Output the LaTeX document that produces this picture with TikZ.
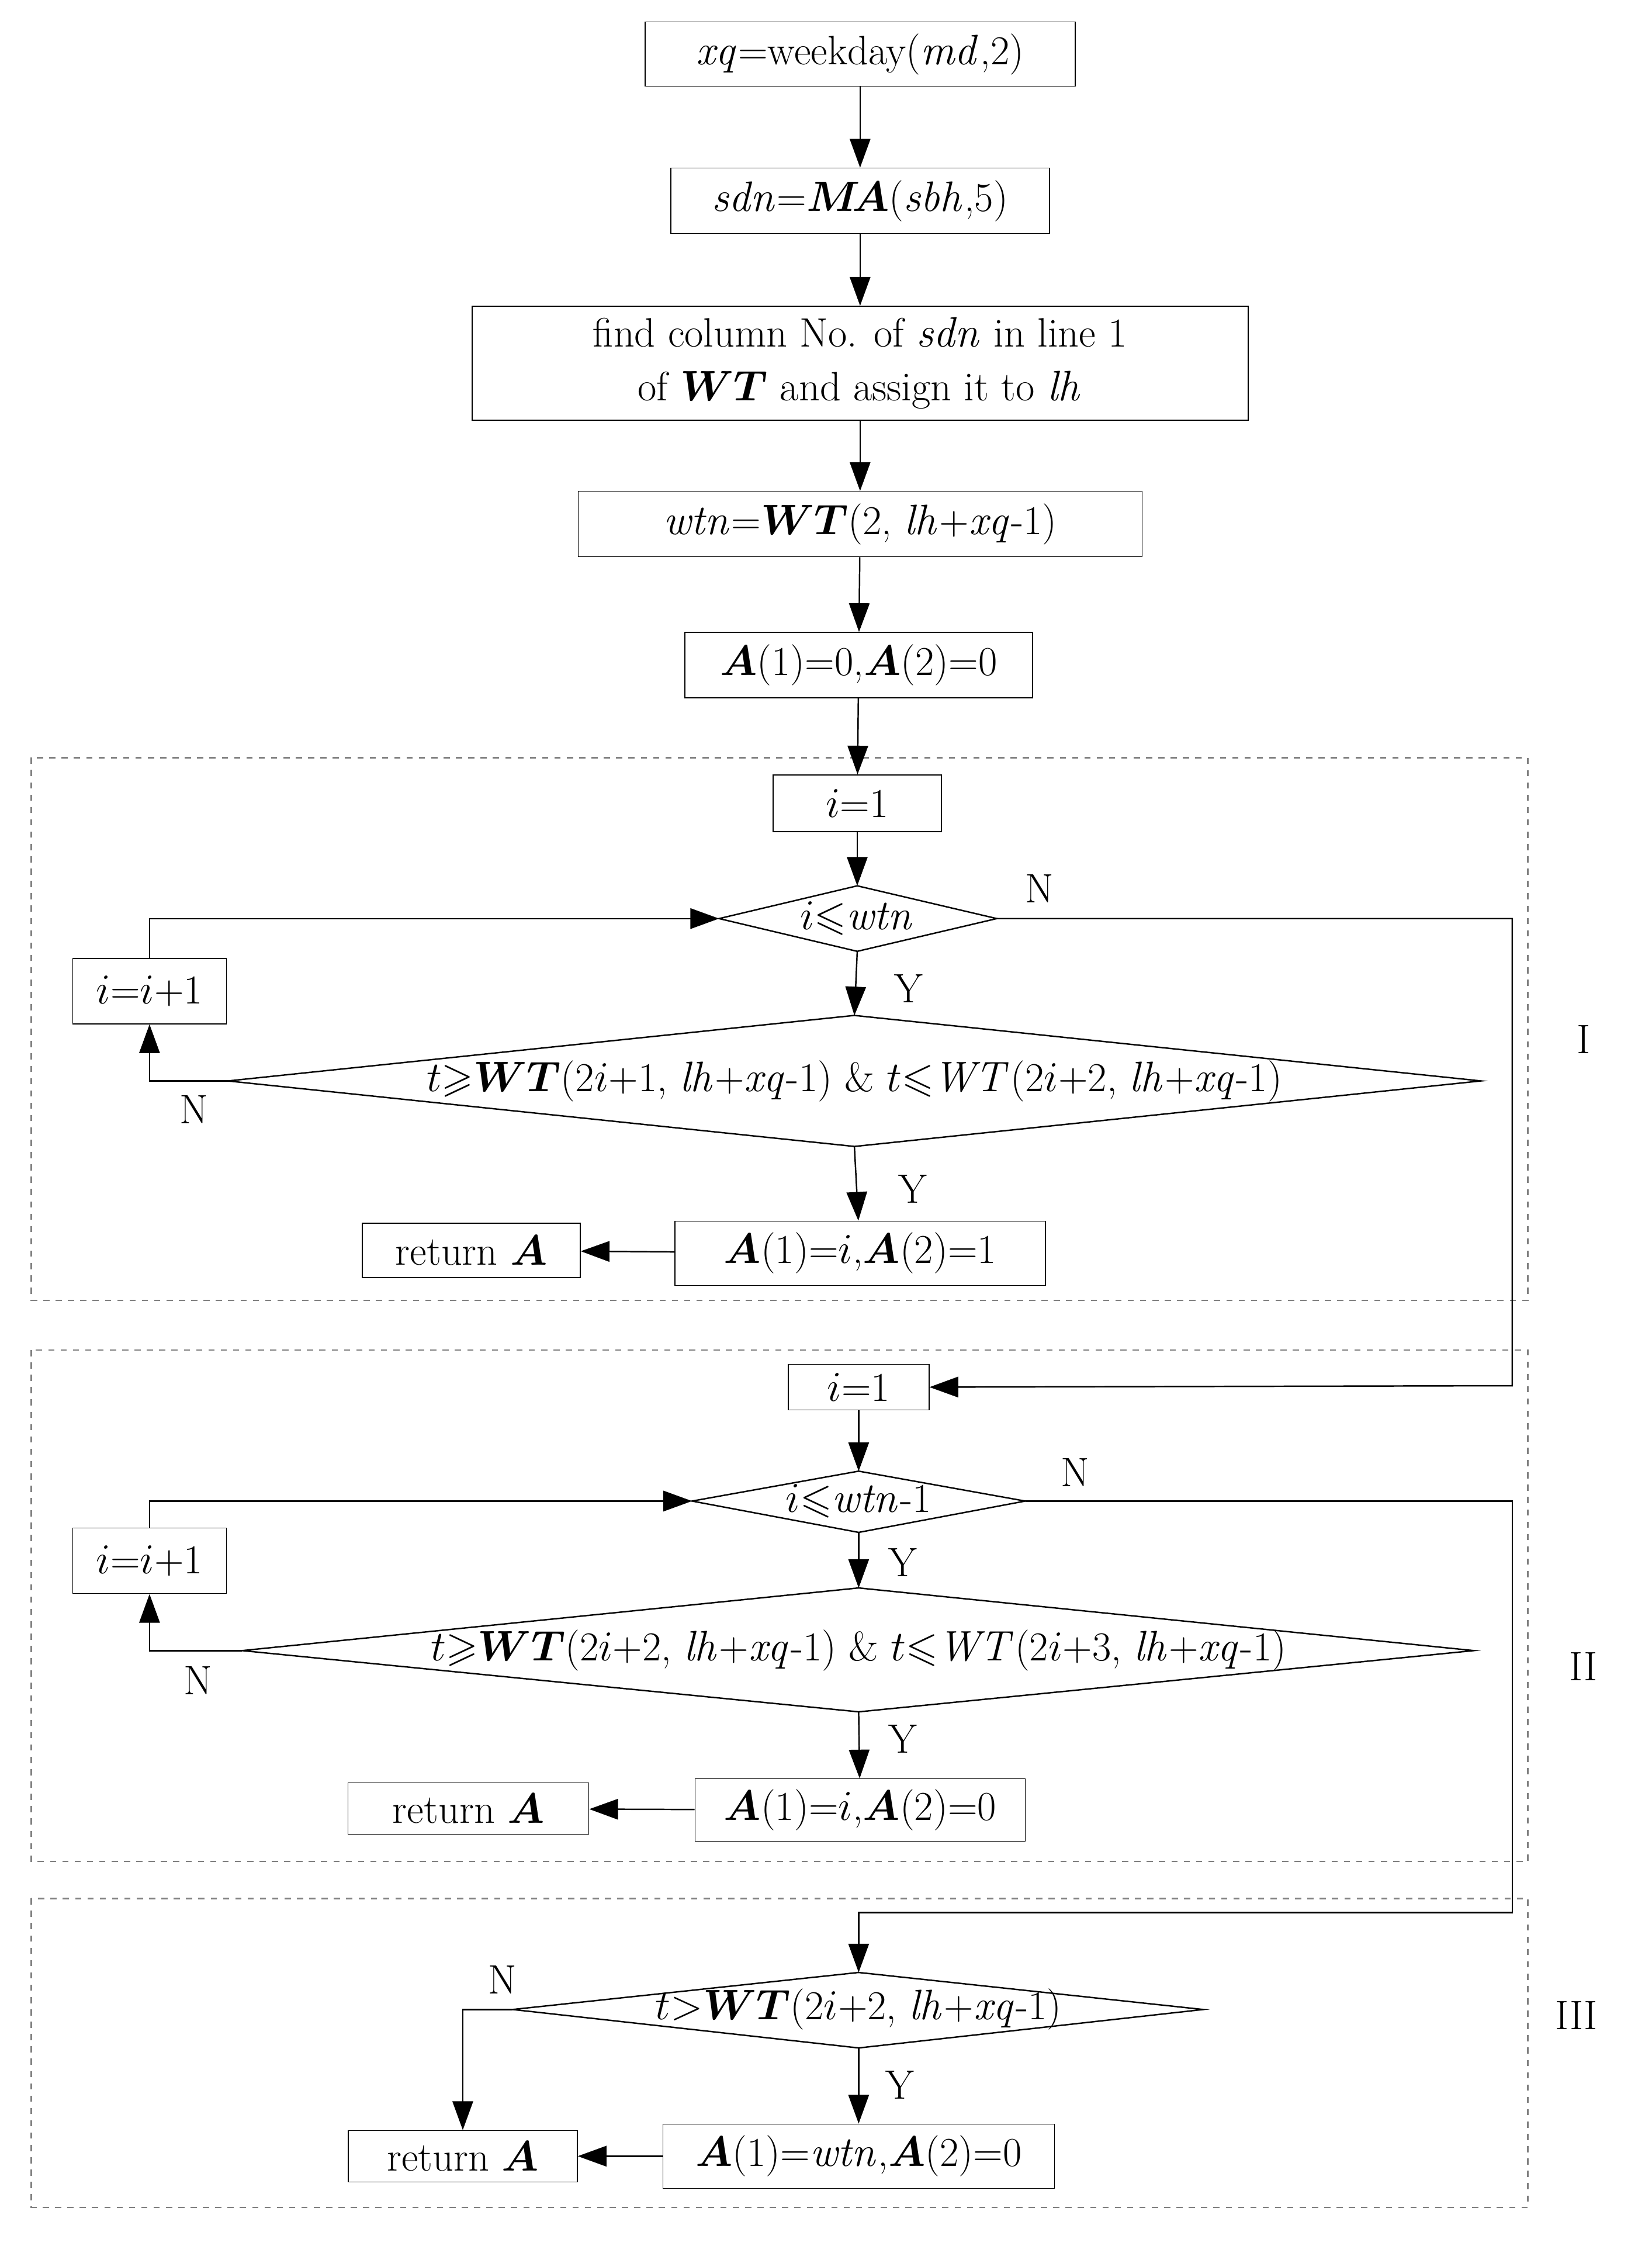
\documentclass[tikz,border=0pt]{standalone}
\usepackage{amsmath,amssymb}
\usetikzlibrary{arrows.meta}
\begin{document}
\begin{tikzpicture}[x=0.02437cm,y=-0.02437cm,
 box/.style={draw,inner sep=0pt,font=\fontsize{20}{26}\selectfont,align=center},
 lbl/.style={font=\fontsize{20}{24}\selectfont},
 arr/.style={-{Triangle[length=14pt,width=10pt]},line width=0.7pt},
 ln/.style={line width=0.7pt},
 reg/.style={draw=gray,dashed,line width=0.7pt}]
\useasboundingbox (0,0) rectangle (1160,1582);
% regions
\draw[reg] (22,532) rectangle (1073,913);
\draw[reg] (22,948) rectangle (1073,1307);
\draw[reg] (22,1333) rectangle (1073,1550);
\node[lbl] (rI) at (1112,730) {I};
\node[lbl] (rII) at (1112,1170) {II};
\node[lbl] (rIII) at (1107,1415) {III};
% boxes
\node[box,minimum width=7.36cm,minimum height=1.10cm] (b1) at (604,38) {$\mathit{xq}$=weekday($\mathit{md}$,2)};
\node[box,minimum width=6.48cm,minimum height=1.12cm] (b2) at (604,141) {$\mathit{sdn}$=$\boldsymbol{M\!A}$($\mathit{sbh}$,5)};
\node[box,minimum width=13.28cm,minimum height=1.95cm] (b3) at (604,255) {find column No. of $\mathit{sdn}$ in line 1\\ of $\boldsymbol{WT}$ and assign it to $\mathit{lh}$};
\node[box,minimum width=9.65cm,minimum height=1.12cm] (b4) at (604,368) {$\mathit{wtn}$=$\boldsymbol{WT}$(2, $\mathit{lh}$+$\mathit{xq}$-1)};
\node[box,minimum width=5.95cm,minimum height=1.12cm] (b5) at (603,467) {$\boldsymbol{A}$(1)=0,$\boldsymbol{A}$(2)=0};
% region I
\node[box,minimum width=2.88cm,minimum height=0.97cm] (i1) at (602,564) {$i$=1};
\node[lbl] (d1) at (602,645) {$i$$\leqslant$$\mathit{wtn}$};
\coordinate (d1l) at (505,645); \coordinate (d1r) at (700,645);
\coordinate (d1t) at (602,622); \coordinate (d1b) at (602,668);
\draw[ln] (d1l)--(d1t)--(d1r)--(d1b)--cycle;
\node[box,minimum width=2.63cm,minimum height=1.12cm] (inc1) at (105,696) {$i$=$i$+1};
\node[lbl] (e1) at (600,759) {$t$$\geqslant$$\boldsymbol{WT}$(2$i$+1, $\mathit{lh}$+$\mathit{xq}$-1) \& $t$$\leqslant$$\mathit{WT}$(2$i$+2, $\mathit{lh}$+$\mathit{xq}$-1)};
\coordinate (e1l) at (160,759); \coordinate (e1r) at (1040,759);
\coordinate (e1t) at (600,713); \coordinate (e1b) at (600,805);
\draw[ln] (e1l)--(e1t)--(e1r)--(e1b)--cycle;
\node[box,minimum width=6.34cm,minimum height=1.10cm] (a1) at (604,880) {$\boldsymbol{A}$(1)=$i$,$\boldsymbol{A}$(2)=1};
\node[box,minimum width=3.73cm,minimum height=0.93cm] (r1) at (331,878) {return $\boldsymbol{A}$};
% region II
\node[box,minimum width=2.41cm,minimum height=0.78cm] (i2) at (603,974) {$i$=1};
\node[lbl] (d2) at (603,1054) {$i$$\leqslant$$\mathit{wtn}$-1};
\coordinate (d2l) at (486,1054); \coordinate (d2r) at (720,1054);
\coordinate (d2t) at (603,1033); \coordinate (d2b) at (603,1076);
\draw[ln] (d2l)--(d2t)--(d2r)--(d2b)--cycle;
\node[box,minimum width=2.63cm,minimum height=1.12cm] (inc2) at (105,1096) {$i$=$i$+1};
\node[lbl] (e2) at (603,1159) {$t$$\geqslant$$\boldsymbol{WT}$(2$i$+2, $\mathit{lh}$+$\mathit{xq}$-1) \& $t$$\leqslant$$\mathit{WT}$(2$i$+3, $\mathit{lh}$+$\mathit{xq}$-1)};
\coordinate (e2l) at (170,1159); \coordinate (e2r) at (1035,1159);
\coordinate (e2t) at (603,1115); \coordinate (e2b) at (603,1202);
\draw[ln] (e2l)--(e2t)--(e2r)--(e2b)--cycle;
\node[box,minimum width=5.65cm,minimum height=1.07cm] (a2) at (604,1271) {$\boldsymbol{A}$(1)=$i$,$\boldsymbol{A}$(2)=0};
\node[box,minimum width=4.12cm,minimum height=0.88cm] (r2) at (329,1270) {return $\boldsymbol{A}$};
% region III
\node[lbl] (d3) at (603,1411) {$t$$>$$\boldsymbol{WT}$(2$i$+2, $\mathit{lh}$+$\mathit{xq}$-1)};
\coordinate (d3l) at (360,1411); \coordinate (d3r) at (845,1411);
\coordinate (d3t) at (603,1385); \coordinate (d3b) at (603,1438);
\draw[ln] (d3l)--(d3t)--(d3r)--(d3b)--cycle;
\node[box,minimum width=6.70cm,minimum height=1.10cm] (a3) at (603,1514) {$\boldsymbol{A}$(1)=$\mathit{wtn}$,$\boldsymbol{A}$(2)=0};
\node[box,minimum width=3.92cm,minimum height=0.88cm] (r3) at (325,1514) {return $\boldsymbol{A}$};
% arrows
\draw[arr] (b1)--(b2);
\draw[arr] (b2)--(b3);
\draw[arr] (b3)--(b4);
\draw[arr] (b4)--(b5);
\draw[arr] (b5)--(i1);
\draw[arr] (i1)--(d1t);
\draw[arr] (d1b)--(e1t);
\draw[arr] (e1b)--(a1);
\draw[arr] (a1)--(r1);
\draw[arr] (e1l)-|(inc1.south);
\draw[arr] (inc1.north)|-(d1l);
\coordinate (k1) at (1062,645); \coordinate (k2) at (1062,973);
\draw[arr] (d1r)--(k1)--(k2)--(i2.east);
\draw[arr] (i2)--(d2t);
\draw[arr] (d2b)--(e2t);
\draw[arr] (e2b)--(a2);
\draw[arr] (a2)--(r2);
\draw[arr] (e2l)-|(inc2.south);
\draw[arr] (inc2.north)|-(d2l);
\coordinate (k3) at (1062,1054); \coordinate (k4) at (1062,1343); \coordinate (k5) at (603,1343);
\draw[arr] (d2r)--(k3)--(k4)--(k5)--(d3t);
\draw[arr] (d3b)--(a3);
\draw[arr] (a3)--(r3);
\draw[arr] (d3l)-|(r3.north);
% labels
\node[lbl] (n1) at (730,624) {N};
\node[lbl] (y1) at (638,694) {Y};
\node[lbl] (n2) at (136,779) {N};
\node[lbl] (y2) at (641,835) {Y};
\node[lbl] (n3) at (755,1034) {N};
\node[lbl] (y3) at (634,1097) {Y};
\node[lbl] (n4) at (139,1180) {N};
\node[lbl] (y4) at (634,1221) {Y};
\node[lbl] (n5) at (353,1390) {N};
\node[lbl] (y5) at (632,1464) {Y};
\end{tikzpicture}
\end{document}
